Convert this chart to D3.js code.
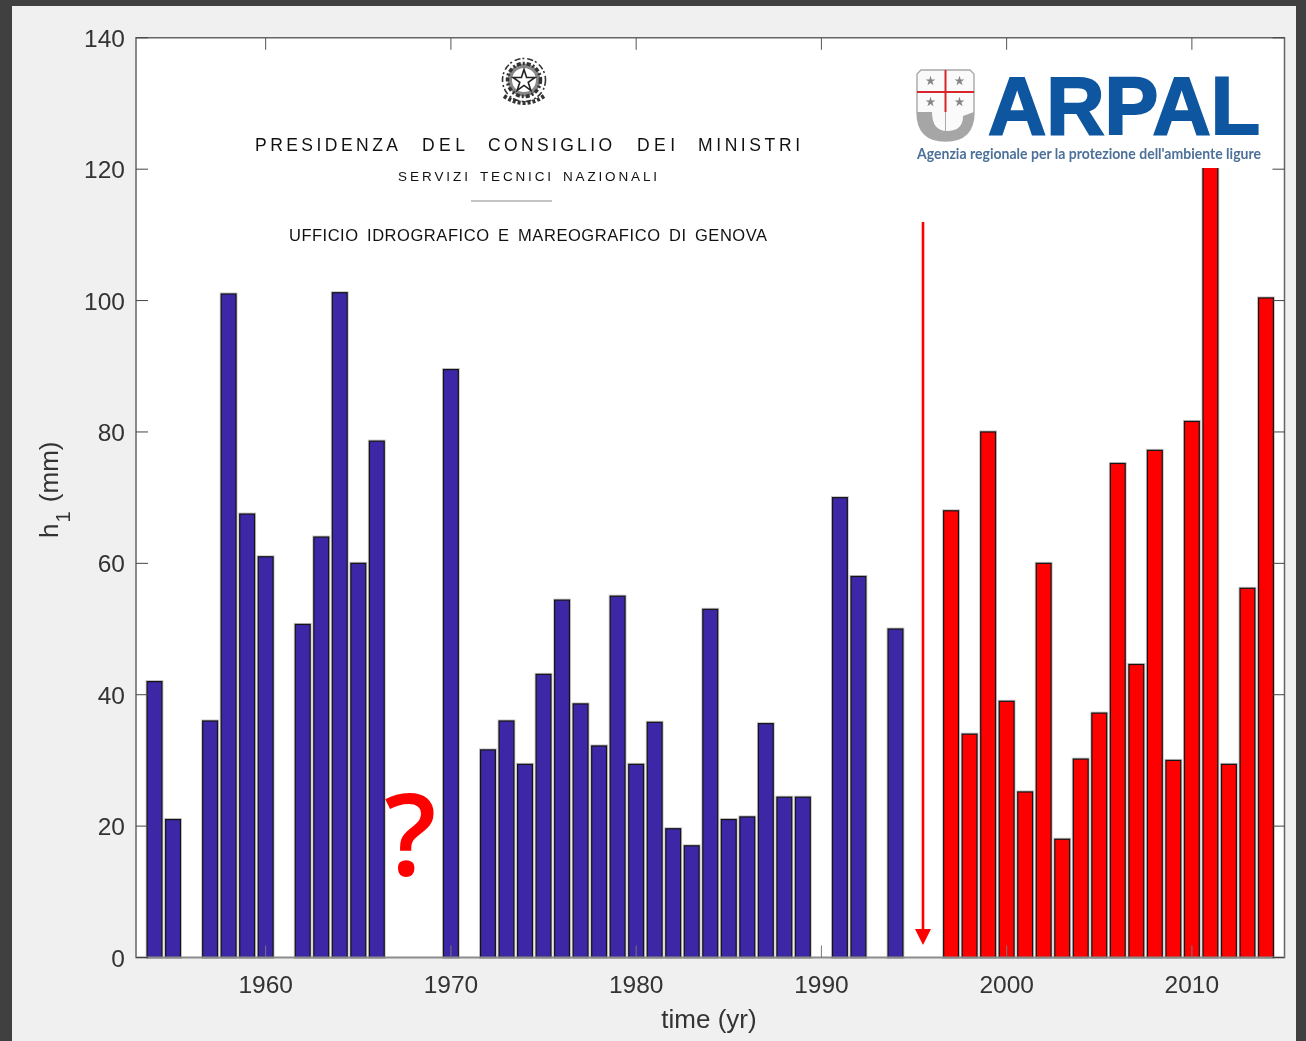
<!DOCTYPE html>
<html><head><meta charset="utf-8">
<script src="https://cdn.jsdelivr.net/npm/d3@7"></script>
<style>html,body{margin:0;padding:0;background:#404040;overflow:hidden}svg{display:block;filter:blur(0.35px)}text{font-family:"Liberation Sans",sans-serif}</style>
</head><body><svg id="c" width="1306" height="1041"></svg>
<script>
const blueYears=[1954,1955,1957,1958,1959,1960,1962,1963,1964,1965,1966,1970,1972,1973,1974,1975,1976,1977,1978,1979,1980,1981,1982,1983,1984,1985,1986,1987,1988,1989,1991,1992,1994];
const blueValues=[42,21,36,101,67.5,61,50.7,64,101.2,60,78.6,89.5,31.6,36,29.4,43.1,54.4,38.6,32.2,55,29.4,35.8,19.6,17,53,21,21.4,35.6,24.4,24.4,70,58,50];
const redYears=[1997,1998,1999,2000,2001,2002,2003,2004,2005,2006,2007,2008,2009,2010,2011,2012,2013,2014];
const redValues=[68,34,80,39,25.2,60,18,30.2,37.2,75.2,44.6,77.2,30,81.6,125,29.4,56.2,100.4];
const xTicks=[1960,1970,1980,1990,2000,2010];
const yTicks=[0,20,40,60,80,100,120,140];
const headerWords=["PRESIDENZA","DEL","CONSIGLIO","DEI","MINISTRI"];
const serviceWords=["SERVIZI","TECNICI","NAZIONALI"];
const officeWords=["UFFICIO","IDROGRAFICO","E","MAREOGRAFICO","DI","GENOVA"];

const svg=d3.select("#c");
const L=136,R=1284.5,T=37.8,B=957.5;
svg.append("rect").attr("x",12).attr("y",6).attr("width",1284).attr("height",1035).attr("fill","#f0f0f0");
svg.append("rect").attr("x",L).attr("y",T).attr("width",R-L).attr("height",B-T).attr("fill","#fff");
const x=d3.scaleLinear().domain([1953,2015]).range([L,R]);
const y=d3.scaleLinear().domain([0,140]).range([B,T]);
const bw=(x(1)-x(0))*0.8;
function bars(ys,vs,col){
  const rows=ys.map((d,i)=>[d,vs[i]]);
  const place=s=>s.attr("x",d=>x(d[0])-bw/2).attr("width",bw)
    .attr("y",d=>y(d[1])).attr("height",d=>B-y(d[1]));
  svg.append("g").selectAll("rect").data(rows).join("rect").call(place)
    .attr("fill","none").attr("stroke","#c4c4c4").attr("stroke-width",3);
  svg.append("g").selectAll("rect").data(rows).join("rect").call(place)
    .attr("fill",col).attr("stroke","#141414").attr("stroke-width",1.2);
}
bars(blueYears,blueValues,"#3d27a6");
bars(redYears,redValues,"#ff0000");

// logo panel hides the top of the 2011 bar
svg.append("rect").attr("x",905).attr("y",50).attr("width",378).attr("height",118).attr("fill","#fff");

// axes
const g=svg.append("g").attr("fill","none");
g.append("path").attr("d",`M${L},${B}V${T}H${R}V${B}`).attr("stroke","#666").attr("stroke-width",1.5);
g.append("line").attr("x1",L-0.7).attr("x2",R+0.7).attr("y1",B).attr("y2",B).attr("stroke","#8c8c8c").attr("stroke-width",2);
xTicks.forEach(t=>{
  g.append("line").attr("x1",x(t)).attr("x2",x(t)).attr("y1",B).attr("y2",B-12).attr("stroke","#777").attr("stroke-width",1);
  g.append("line").attr("x1",x(t)).attr("x2",x(t)).attr("y1",T).attr("y2",T+12).attr("stroke","#555").attr("stroke-width",1);
});
yTicks.forEach(t=>{
  g.append("line").attr("x1",L).attr("x2",L+12).attr("y1",y(t)).attr("y2",y(t)).attr("stroke","#444").attr("stroke-width",1);
  g.append("line").attr("x1",R-12).attr("x2",R).attr("y1",y(t)).attr("y2",y(t)).attr("stroke","#444").attr("stroke-width",1);
});
const tc="#333";
svg.append("g").selectAll("text").data(xTicks).join("text")
  .attr("x",d=>x(d)).attr("y",993).attr("text-anchor","middle").attr("font-size",24.5).attr("fill",tc).text(d=>d);
svg.append("g").selectAll("text").data(yTicks).join("text")
  .attr("x",125).attr("y",d=>y(d)+9).attr("text-anchor","end").attr("font-size",24.5).attr("fill",tc).text(d=>d);
svg.append("text").attr("x",709).attr("y",1028).attr("text-anchor","middle").attr("font-size",26).attr("fill",tc).text("time (yr)");
const yl=svg.append("text").attr("transform","translate(58,538) rotate(-90)").attr("font-size",26).attr("fill",tc);
yl.append("tspan").text("h");
yl.append("tspan").attr("font-size",20).attr("dy",12).attr("dx",1).text("1");
yl.append("tspan").attr("dy",-12).attr("dx",2).text(" (mm)");

// ministry header
const hdr=svg.append("g").attr("fill","#111");
function words(list,spans,base,size,weight){
  hdr.append("g").selectAll("text").data(list).join("text")
    .attr("x",(d,i)=>spans[i][0]).attr("y",base).attr("font-size",size).attr("font-weight",weight)
    .attr("textLength",(d,i)=>spans[i][1]-spans[i][0]).text(d=>d);
}
words(headerWords,[[255,398],[422,465],[488,612],[637,675],[698,800]],151,17.5,400);
words(serviceWords,[[398,468],[480,551],[563,657]],181,13.5,400);
words(officeWords,[[289,358],[367,489],[498,509],[518,660],[669,686],[695,767]],241,16.5,400);
hdr.append("line").attr("x1",471).attr("x2",552).attr("y1",201).attr("y2",201).attr("stroke","#888").attr("stroke-width",1);

// emblem
const em=svg.append("g").attr("transform","translate(524,80)");
em.append("circle").attr("r",21.5).attr("fill","none").attr("stroke","#333").attr("stroke-width",1.6).attr("stroke-dasharray","6 2 2 3");
em.append("circle").attr("r",16.5).attr("fill","#888").attr("stroke","#333").attr("stroke-width",3.5).attr("stroke-dasharray","4 2 2 2");
em.append("circle").attr("r",12).attr("fill","#fff");
em.append("path").attr("d",d3.symbol(d3.symbolStar,150)()).attr("transform","translate(0,1)").attr("fill","#fff").attr("stroke","#222").attr("stroke-width",1.6);
em.append("path").attr("d","M-20,16 Q0,30 20,16").attr("fill","none").attr("stroke","#333").attr("stroke-width",4).attr("stroke-dasharray","3 2");

// ARPAL logo
const lg=svg.append("g");
const shield="M921,70 L970,70 L974,74 L974,112 Q974,141 945.5,141 Q917,141 917,112 L917,74 Z";
lg.append("path").attr("d",shield).attr("fill","#fafafa").attr("stroke","#a8a8a8").attr("stroke-width",1.4);
lg.append("path").attr("d","M917,112 L932,112 Q932,131 947,131 Q963,131 963,116 L974,112 Q974,141 945.5,141 Q917,141 917,112 Z").attr("fill","#a6a6a6");
lg.append("line").attr("x1",945.5).attr("x2",945.5).attr("y1",70).attr("y2",131).attr("stroke","#aaa").attr("stroke-width",1);
lg.append("line").attr("x1",945.5).attr("x2",945.5).attr("y1",70).attr("y2",112).attr("stroke","#d9262c").attr("stroke-width",2);
lg.append("line").attr("x1",917).attr("x2",974).attr("y1",92).attr("y2",92).attr("stroke","#d9262c").attr("stroke-width",2);
[[930.5,81],[959.5,81],[930.5,102],[959.5,102]].forEach(p=>lg.append("path").attr("transform",`translate(${p[0]},${p[1]})`).attr("d",d3.symbol(d3.symbolStar,30)()).attr("fill","#858585"));
lg.append("text").attr("x",988).attr("y",134).attr("font-size",82).attr("font-weight","bold").attr("fill","#0f56a0").attr("stroke","#0f56a0").attr("stroke-width",2).attr("textLength",272).attr("lengthAdjust","spacingAndGlyphs").text("ARPAL");
lg.append("text").attr("x",917).attr("y",159).style("font-family","Lato,'Open Sans',sans-serif").attr("font-size",14.5).attr("font-weight","bold").attr("fill","#4c7099").attr("textLength",344).attr("lengthAdjust","spacingAndGlyphs").text("Agenzia regionale per la protezione dell'ambiente ligure");

// annotations
svg.append("text").attr("x",410.5).attr("y",875).attr("text-anchor","middle").style("font-family","'Open Sans',sans-serif").attr("font-size",115).attr("font-weight",600).attr("fill","#ff0000").text("?");
svg.append("line").attr("x1",923).attr("x2",923).attr("y1",222).attr("y2",932).attr("stroke","#ff0000").attr("stroke-width",2.6);
svg.append("path").attr("d","M915,929 L931,929 L923,945 Z").attr("fill","#ff0000");
</script></body></html>
